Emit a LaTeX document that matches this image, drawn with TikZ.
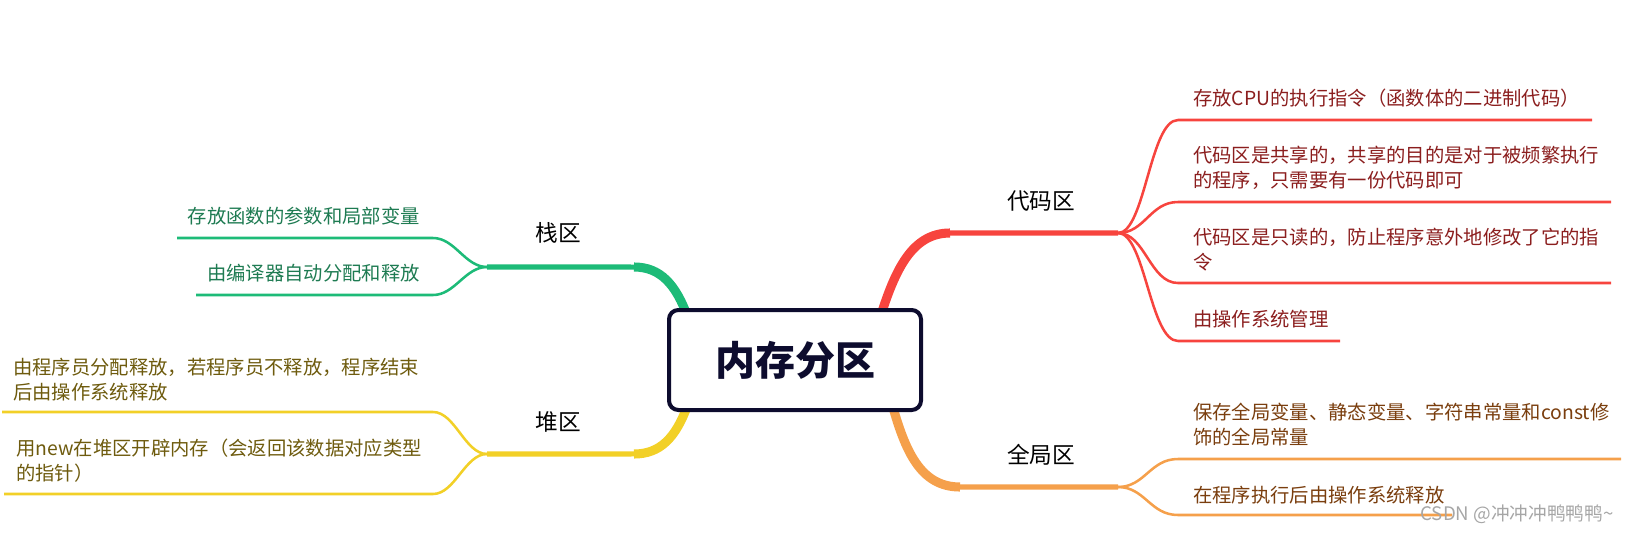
\documentclass[tikz,border=0pt]{standalone}
\usepackage{fontspec}
\setmainfont{Noto Sans CJK SC}
\definecolor{boxnavy}{HTML}{0D0C2E}
\definecolor{stackc}{HTML}{1DBB78}
\definecolor{stackt}{HTML}{1E7B52}
\definecolor{heapc}{HTML}{F2D027}
\definecolor{heapt}{HTML}{6E5B0E}
\definecolor{codec}{HTML}{F7443E}
\definecolor{codet}{HTML}{8B1E1E}
\definecolor{globc}{HTML}{F5A04B}
\definecolor{globt}{HTML}{7A3E0E}
\begin{document}
\begin{tikzpicture}[x=0.75pt,y=-0.75pt,
    rootbox/.style={draw=boxnavy,line width=3pt,rounded corners=7pt,fill=white,
      minimum width=189pt,minimum height=75pt,text=boxnavy,
      font=\fontsize{30}{36}\selectfont\bfseries},
    topic/.style={font=\fontsize{17}{20}\selectfont,inner sep=0pt},
    leaf/.style={font=\fontsize{14.5}{18.75}\selectfont,inner sep=0pt,align=left},
    twig/.style={line width=1.9pt},
    trunk/.style={line width=3.8pt},
    trunkroot/.style={line width=6.8pt}]
    \useasboundingbox (0,0) rectangle (1630,532);

    % split points and line ends
    \coordinate (s0) at (688,318);
    \coordinate (stacksplit) at (487,267);
    \coordinate (h0) at (688,404);
    \coordinate (heapsplit) at (487,454);
    \coordinate (c0) at (880,318);
    \coordinate (codesplit) at (1118,233);
    \coordinate (g0) at (892,404);
    \coordinate (globsplit) at (1118,487);

    % 栈区
    \draw[stackc,trunk] (s0) .. controls (676,284) and (660,267) .. (630,267) -- (stacksplit);
    \draw[stackc,trunkroot] (s0) .. controls (676,284) and (660,267) .. (634,267);
    \draw[stackc,twig] (stacksplit) .. controls (465,267) and (455,238) .. (433,238) -- (177,238);
    \draw[stackc,twig] (stacksplit) .. controls (465,267) and (455,295) .. (433,295) -- (196,295);
    \node[topic] (stack) at (558,233) {栈区};
    \node[leaf,text=stackt,anchor=east] (s1) at (420,216) {存放函数的参数和局部变量};
    \node[leaf,text=stackt,anchor=east] (s2) at (420,273) {由编译器自动分配和释放};

    % 堆区
    \draw[heapc,trunk] (h0) .. controls (676,438) and (660,454) .. (630,454) -- (heapsplit);
    \draw[heapc,trunkroot] (h0) .. controls (676,438) and (660,454) .. (634,454);
    \draw[heapc,twig] (heapsplit) .. controls (465,454) and (455,412) .. (433,412) -- (2,412);
    \draw[heapc,twig] (heapsplit) .. controls (465,454) and (455,494) .. (433,494) -- (4,494);
    \node[topic] (heap) at (558,422) {堆区};
    \node[leaf,text=heapt,anchor=west] (h1) at (13,379.5) {由程序员分配释放，若程序员不释放，程序结束\\后由操作系统释放};
    \node[leaf,text=heapt,anchor=west] (h2) at (16,460.5) {用new在堆区开辟内存（会返回该数据对应类型\\的指针）};

    % 代码区
    \draw[codec,trunk] (c0) .. controls (895,270) and (912,233) .. (945,233) -- (codesplit);
    \draw[codec,trunkroot] (c0) .. controls (895,270) and (912,233) .. (950,233);
    \draw[codec,twig] (codesplit) .. controls (1145,233) and (1150,120) .. (1178,120) -- (1592,120);
    \draw[codec,twig] (codesplit) .. controls (1145,233) and (1150,202) .. (1178,202) -- (1611,202);
    \draw[codec,twig] (codesplit) .. controls (1145,233) and (1150,283) .. (1178,283) -- (1611,283);
    \draw[codec,twig] (codesplit) .. controls (1145,233) and (1150,341) .. (1178,341) -- (1340,341);
    \node[topic] (code) at (1041,201) {代码区};
    \node[leaf,text=codet,anchor=west] (c1) at (1193,98) {存放CPU的执行指令（函数体的二进制代码）};
    \node[leaf,text=codet,anchor=west] (c2) at (1193,167.5) {代码区是共享的，共享的目的是对于被频繁执行\\的程序，只需要有一份代码即可};
    \node[leaf,text=codet,anchor=west] (c3) at (1193,249.5) {代码区是只读的，防止程序意外地修改了它的指\\令};
    \node[leaf,text=codet,anchor=west] (c4) at (1193,319) {由操作系统管理};

    % 全局区
    \draw[globc,trunk] (g0) .. controls (905,450) and (920,487) .. (955,487) -- (globsplit);
    \draw[globc,trunkroot] (g0) .. controls (905,450) and (920,487) .. (960,487);
    \draw[globc,twig] (globsplit) .. controls (1145,487) and (1150,459) .. (1178,459) -- (1621,459);
    \draw[globc,twig] (globsplit) .. controls (1145,487) and (1150,515) .. (1178,515) -- (1452,515);
    \node[topic] (global) at (1041,455) {全局区};
    \node[leaf,text=globt,anchor=west] (g1) at (1193,425) {保存全局变量、静态变量、字符串常量和const修\\饰的全局常量};
    \node[leaf,text=globt,anchor=west] (g2) at (1193,495) {在程序执行后由操作系统释放};

    \node[rootbox] (root) at (795,360) {内存分区};
    \node[font=\fontsize{14}{16}\selectfont,text=black!35,inner sep=0pt] (mark) at (1517,514) {CSDN @冲冲冲鸭鸭鸭\textasciitilde};
\end{tikzpicture}
\end{document}
